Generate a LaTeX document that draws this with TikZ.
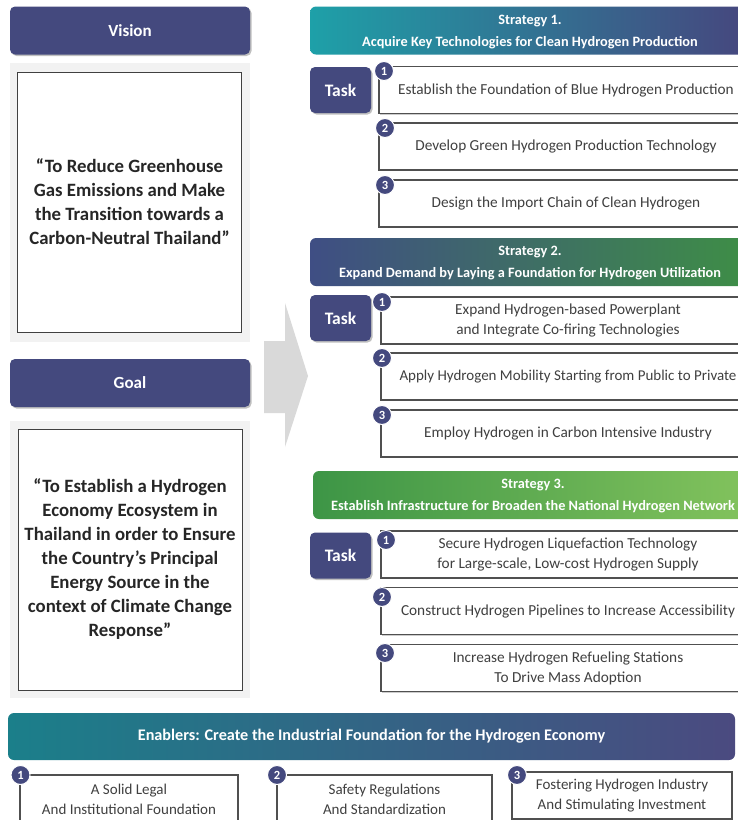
\documentclass[tikz,border=0pt]{standalone}
\usepackage{fontspec}
\setmainfont{Carlito}
\usetikzlibrary{shadows}
\definecolor{navy}{RGB}{68,73,126}
\definecolor{panelgrey}{RGB}{242,242,242}
\definecolor{arrowgrey}{RGB}{217,217,217}
\definecolor{boxgrey}{RGB}{64,64,64}
\definecolor{itemgrey}{RGB}{80,80,80}
\definecolor{itemtext}{RGB}{64,64,64}
\definecolor{quotetext}{RGB}{38,38,38}
\definecolor{sOneL}{RGB}{30,160,168}
\definecolor{sOneR}{RGB}{70,70,126}
\definecolor{sTwoL}{RGB}{63,78,132}
\definecolor{sTwoR}{RGB}{62,142,70}
\definecolor{sThrL}{RGB}{61,149,70}
\definecolor{sThrR}{RGB}{131,195,93}
\definecolor{enL}{RGB}{27,127,138}
\definecolor{enR}{RGB}{75,74,128}
\begin{document}
\begin{tikzpicture}[x=1pt,y=-1pt,
  hdr/.style={rounded corners=5pt, fill=navy, text=white,
    font=\bfseries\fontsize{17}{20}\selectfont, minimum width=240pt, minimum height=48pt,
    drop shadow={shadow xshift=1.5pt, shadow yshift=-1.5pt, fill=black, opacity=0.25}},
  quotebox/.style={draw=boxgrey, fill=white, line width=1pt, align=center,
    font=\bfseries\fontsize{18.8}{24}\selectfont, text=quotetext,
    minimum width=224pt, inner sep=0pt},
  strat/.style={rounded corners=6pt, minimum width=440pt, minimum height=48pt},
  strattxt/.style={text=white, align=center, inner sep=0pt,
    font=\bfseries\fontsize{14.3}{21.5}\selectfont},
  taskbox/.style={rounded corners=5pt, fill=navy, text=white,
    font=\bfseries\fontsize{17.5}{20}\selectfont, minimum width=61pt, minimum height=46pt,
    drop shadow={shadow xshift=1.5pt, shadow yshift=-1.5pt, fill=black, opacity=0.25}},
  item/.style={draw=itemgrey, line width=1.1pt, fill=white, align=center,
    font=\fontsize{15.3}{20}\selectfont, text=itemtext,
    minimum width=374pt, minimum height=47pt, inner sep=0pt,
    drop shadow={shadow xshift=0.8pt, shadow yshift=-1.2pt, fill=black, opacity=0.2}},
  enab/.style={draw=itemgrey, line width=1.1pt, fill=white, align=center,
    font=\fontsize{15}{20}\selectfont, text=itemtext, minimum height=48pt, inner sep=0pt},
  numc/.style={circle, fill=navy, draw=white, line width=1pt, minimum size=19pt,
    inner sep=0pt, text=white, font=\bfseries\fontsize{12.5}{12.5}\selectfont}
]
\useasboundingbox (0,0) rectangle (738,820);
\fill[white] (0,0) rectangle (738,820);

% ---------- Vision ----------
\node[hdr] (vision) at (130,30.5) {Vision};
\fill[panelgrey] (10,63) rectangle (250,342);
\node[quotebox, minimum height=260pt] (visiontxt) at (129.5,202)
  {“To Reduce Greenhouse\\Gas Emissions and Make\\the Transition towards a\\Carbon-Neutral Thailand”};

% ---------- Goal ----------
\node[hdr] (goal) at (130,383) {Goal};
\fill[panelgrey] (10,421) rectangle (250,698);
\node[quotebox, minimum height=261pt] (goaltxt) at (130,559.5)
  {“To Establish a Hydrogen\\Economy Ecosystem in\\Thailand in order to Ensure\\the Country’s Principal\\Energy Source in the\\context of Climate Change\\Response”};

% ---------- big arrow ----------
\fill[arrowgrey] (264,341) -- (285,341) -- (285,303) -- (308,376) -- (285,447)
  -- (285,413) -- (264,413) -- cycle;

% ---------- Strategy 1 ----------
\node[strat, left color=sOneL, right color=sOneR] (s1) at (530,30.5) {};
\node[strattxt] (s1t) at (530,32) {Strategy 1.\\Acquire Key Technologies for Clean Hydrogen Production};
\node[taskbox] (t1) at (340.5,90) {Task};
\node[item] (s1a) at (566,90) {Establish the Foundation of Blue Hydrogen Production};
\node[item] (s1b) at (566,146.5) {Develop Green Hydrogen Production Technology};
\node[item] (s1c) at (566,203.5) {Design the Import Chain of Clean Hydrogen};
\node[numc] (n1a) at (384,71) {1};
\node[numc] (n1b) at (385,128) {2};
\node[numc] (n1c) at (385,185) {3};

% ---------- Strategy 2 ----------
\node[strat, left color=sTwoL, right color=sTwoR] (s2) at (530,262) {};
\node[strattxt] (s2t) at (530,263) {Strategy 2.\\Expand Demand by Laying a Foundation for Hydrogen Utilization};
\node[taskbox] (t2) at (340.5,318) {Task};
\node[item] (s2a) at (568,320.5) {Expand Hydrogen-based Powerplant\\and Integrate Co-firing Technologies};
\node[item, font=\fontsize{15}{20}\selectfont] (s2b) at (568,376.5) {Apply Hydrogen Mobility Starting from Public to Private};
\node[item] (s2c) at (568,433.5) {Employ Hydrogen in Carbon Intensive Industry};
\node[numc] (n2a) at (382,302) {1};
\node[numc] (n2b) at (382,358) {2};
\node[numc] (n2c) at (382,415) {3};

% ---------- Strategy 3 ----------
\node[strat, left color=sThrL, right color=sThrR] (s3) at (533,495) {};
\node[strattxt] (s3t) at (533,496) {Strategy 3.\\Establish Infrastructure for Broaden the National Hydrogen Network};
\node[taskbox] (t3) at (340.5,555.5) {Task};
\node[item] (s3a) at (568,554.5) {Secure Hydrogen Liquefaction Technology\\for Large-scale, Low-cost Hydrogen Supply};
\node[item] (s3b) at (568,611) {Construct Hydrogen Pipelines to Increase Accessibility};
\node[item] (s3c) at (568,668) {Increase Hydrogen Refueling Stations\\To Drive Mass Adoption};
\node[numc] (n3a) at (386,540) {1};
\node[numc] (n3b) at (382,597) {2};
\node[numc] (n3c) at (385,653) {3};

% ---------- Enablers ----------
\node[rounded corners=6pt, left color=enL, right color=enR, text=white,
  font=\bfseries\fontsize{16.2}{19}\selectfont, minimum width=727pt, minimum height=47pt]
  (en) at (371.5,736.5) {Enablers: Create the Industrial Foundation for the Hydrogen Economy};
\node[enab, minimum width=218pt] (e1) at (129,799) {A Solid Legal\\And Institutional Foundation};
\node[enab, minimum width=215pt] (e2) at (384.5,799) {Safety Regulations\\And Standardization};
\node[enab, minimum width=220pt, minimum height=47pt] (e3) at (622,795.5) {Fostering Hydrogen Industry\\And Stimulating Investment};
\node[numc] (ne1) at (20.5,775) {1};
\node[numc] (ne2) at (277,775) {2};
\node[numc] (ne3) at (517,775) {3};
\end{tikzpicture}
\end{document}
